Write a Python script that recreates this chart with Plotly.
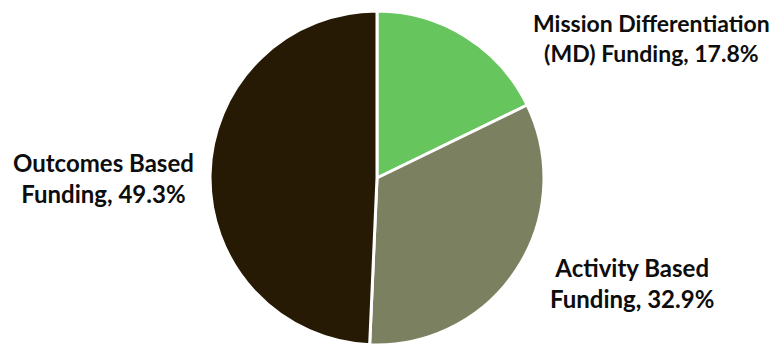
import plotly.graph_objects as go

categories = ["Mission Differentiation (MD) Funding", "Activity Based Funding", "Outcomes Based Funding"]
values = [17.8, 32.9, 49.3]
label_texts = ["Mission Differentiation<br>(MD) Funding, 17.8%",
               "Activity Based<br>Funding, 32.9%",
               "Outcomes Based<br>Funding, 49.3%"]
colors = ["#66C55C", "#7B8060", "#261A04"]

W, H = 777, 344
OFF = 8  # page body margin
fig = go.Figure(go.Pie(
    labels=categories,
    values=values,
    sort=False,
    direction="clockwise",
    rotation=0,
    marker=dict(colors=colors, line=dict(color="white", width=3)),
    textinfo="none",
    hoverinfo="label+percent",
    domain=dict(x=[0.2600, 0.6898], y=[0.0203, 0.9913]),
    showlegend=False,
))

label_pos = [(651, 38), (632, 283), (103, 178)]
label_sizes = [23, 24, 24]
for txt, (px, py), fs in zip(label_texts, label_pos, label_sizes):
    fig.add_annotation(
        text=txt, x=(px - OFF) / W, y=1 - (py - OFF) / H, xref="paper", yref="paper",
        showarrow=False, xanchor="center", yanchor="middle", align="center",
        font=dict(family="Lato", size=fs, color="#0d0d0d", weight="bold"),
    )

fig.update_layout(
    width=W, height=H,
    margin=dict(l=0, r=0, t=0, b=0),
    paper_bgcolor="white", plot_bgcolor="white",
)
fig.write_html("out.html")
